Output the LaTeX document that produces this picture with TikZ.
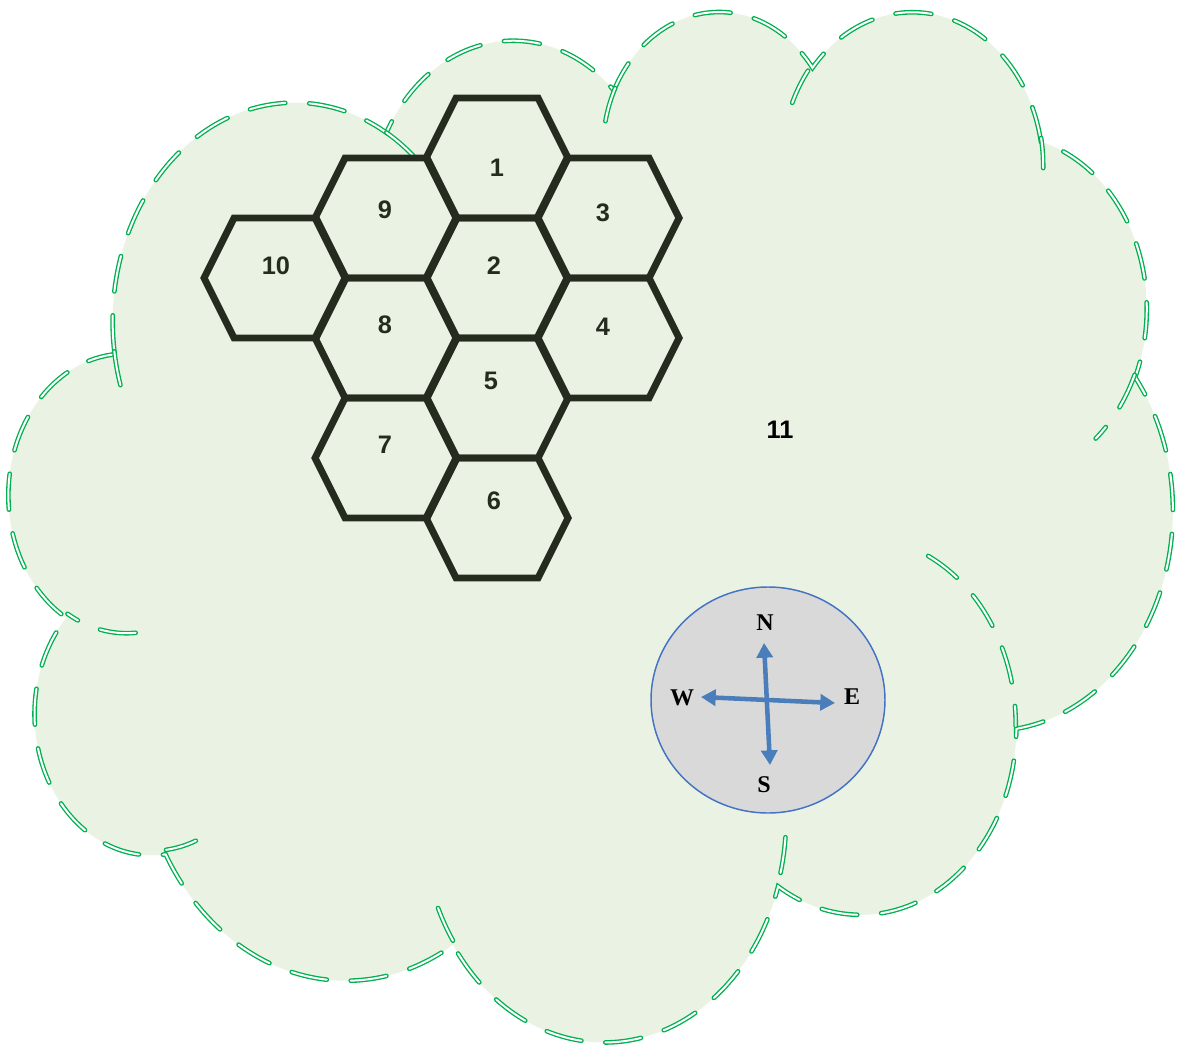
\documentclass[tikz,border=0pt]{standalone}
\usepackage{fontspec}
\setmainfont{Liberation Sans}
\newfontfamily\serifbold{Liberation Serif}
\usetikzlibrary{arrows.meta}
\definecolor{cloudc}{HTML}{00B050}
\definecolor{cloudbg}{HTML}{EAF3E3}
\definecolor{hexc}{HTML}{262B1F}
\definecolor{compc}{HTML}{4A7EBB}
\definecolor{compbg}{HTML}{D9D9D9}
\definecolor{compedge}{HTML}{4472C4}

% ray angle of an ellipse -> parametric angle
\pgfmathdeclarefunction{pang}{3}{%
  \begingroup
    \pgfmathsetmacro\pangt{atan2((#2)*sin(#1),(#3)*cos(#1))}%
    \pgfmathparse{\pangt+360*round(((#1)-\pangt)/360)}%
    \pgfmathsmuggle\pgfmathresult
  \endgroup}
\newcommand\cloudarc[4]{arc[x radius=#1, y radius=#2,
  start angle={pang(#3,#1,#2)}, end angle={pang(#3+#4,#1,#2)}]}

\begin{document}
\begin{tikzpicture}[x=0.75pt, y=-0.75pt,
    >={Triangle[length=11pt, width=12pt]},
    cloudline/.style={draw=cloudc, line width=1pt, double=white,
      double distance=1.5pt, dash pattern=on 27pt off 18pt, line cap=round},
    hexline/.style={draw=hexc, line width=5.2pt},
    hexnum/.style={font=\fontsize{19}{19}\selectfont\bfseries, text=hexc},
    compnum/.style={font=\serifbold\fontsize{18}{18}\selectfont\bfseries}]
  \useasboundingbox (0,0) rectangle (1186,1045);

  % cloud
  \begin{scope}[shift={(7pt,-6.5pt)}, x=2.0192pt, y=-1.7882pt]
    \draw[cloudline, fill=cloudbg] (39.00,143.70)
      \cloudarc{67.53}{91.90}{-190.4875}{123.7805}
      \cloudarc{53.33}{72.67}{-144.1024}{89.9452}
      \cloudarc{43.65}{59.45}{-145.8079}{99.7230}
      \cloudarc{48.57}{65.95}{-130.9861}{117.2417}
      \cloudarc{53.33}{72.73}{-78.7089}{109.0269}
      \cloudarc{67.75}{92.20}{-46.2673}{130.2690}
      \cloudarc{57.85}{78.67}{0.6250}{114.0333}
      \cloudarc{67.52}{92.15}{22.4516}{115.1726}
      \cloudarc{77.20}{105.43}{66.2426}{75.7110}
      \cloudarc{43.60}{59.18}{-274.9421}{146.7356}
      \cloudarc{43.45}{59.45}{-246.8285}{152.5189} -- cycle;
    \draw[cloudline]
      (46.93,261.77) \cloudarc{43.45}{59.45}{86.742}{26.4295}
      (69.28,348.99) \cloudarc{43.60}{59.18}{73.6105}{11.4475}
      (164.78,390.90) \cloudarc{67.52}{92.15}{137.6242}{14.0811}
      (288.27,347.51) \cloudarc{67.52}{92.15}{6.4533}{15.9984}
      (341.29,229.54) \cloudarc{57.85}{78.67}{-70.2924}{70.9174}
      (417.98,153.54) \cloudarc{53.33}{72.73}{30.3180}{27.7515}
      (383.24,54.26) \cloudarc{48.57}{65.95}{-13.7443}{14.8589}
      (290.78,39.52) \cloudarc{48.57}{65.95}{-149.1815}{18.1954}
      (221.41,47.20) \cloudarc{43.65}{59.45}{-163.4943}{17.6864}
      (140.00,51.92) \cloudarc{67.53}{91.90}{-66.7070}{12.3194}
      (41.27,157.89) \cloudarc{67.53}{91.90}{157.6544}{11.8582};
  \end{scope}
  \node[hexnum, text=black] (zone11) at (780,430) {11};

  % hexagons: column, half-row, label position
  \foreach \n/\c/\r/\lx/\ly in {1/2/0/497/168, 2/2/2/494/266, 3/3/1/603/213,
      4/3/3/603/327, 5/2/4/491/381, 6/2/6/494/501, 7/1/5/385/445,
      8/1/3/385/325, 9/1/1/385/210, 10/0/2/276/266}{
    \draw[hexline, shift={(275+111*\c,158+60*\r)}] (-71,0) -- (-41,-60)
      -- (41,-60) -- (71,0) -- (41,60) -- (-41,60) -- cycle;
    \node[hexnum] (hex\n) at (\lx,\ly) {\n};
  }

  % compass
  \draw[draw=compedge, fill=compbg, line width=1.1pt] (768,700)
    ellipse [x radius=117, y radius=113];
  \coordinate (ntip) at (764,643);
  \coordinate (stip) at (770,765);
  \coordinate (wtip) at (701,697);
  \coordinate (etip) at (835,703);
  \draw[<->, compc, line width=3.4pt] (ntip) -- (stip);
  \draw[<->, compc, line width=3.4pt] (wtip) -- (etip);
  \node[compnum] (north) at (765,623) {N};
  \node[compnum] (south) at (764,785) {S};
  \node[compnum] (west) at (682,698) {W};
  \node[compnum] (east) at (852,697) {E};
\end{tikzpicture}
\end{document}
